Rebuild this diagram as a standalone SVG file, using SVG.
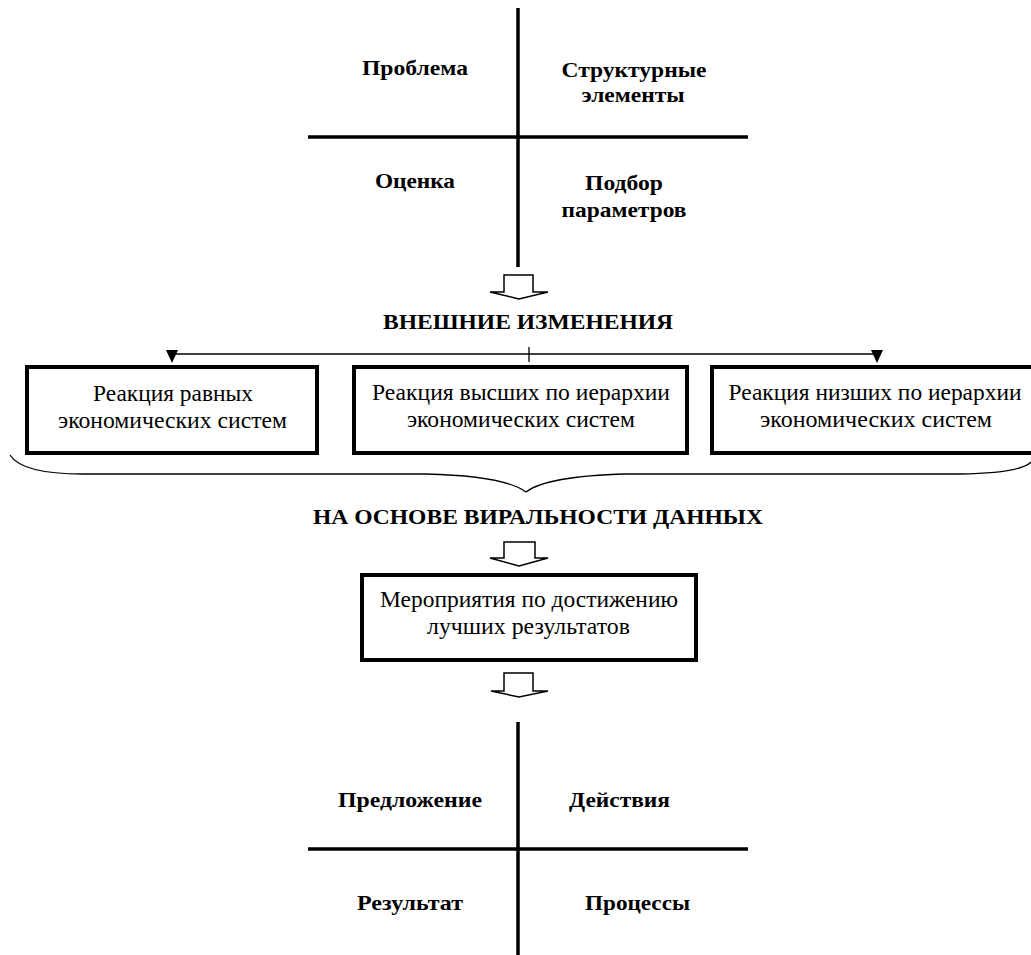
<svg xmlns="http://www.w3.org/2000/svg" width="1031" height="955" viewBox="0 0 1031 955">
<style>
.b{font-family:"Liberation Serif","Times New Roman",serif;font-weight:bold;font-size:21px;fill:#000;text-anchor:middle}
.r{font-family:"Liberation Serif","Times New Roman",serif;font-size:23px;fill:#000;text-anchor:middle}
.axis{stroke:#000;stroke-width:3.5;fill:none}
.box{fill:#fff;stroke:#000;stroke-width:4}
.barrow{fill:#fff;stroke:#000;stroke-width:1.5;stroke-linejoin:miter}
.thin{stroke:#000;stroke-width:1.3;fill:none}
</style>
<rect width="1031" height="955" fill="#fff"/>
<g id="top-cross">
<line class="axis" x1="518" y1="8" x2="518" y2="267"/>
<line class="axis" x1="308" y1="137" x2="748" y2="137"/>
<text class="b" x="415" y="75" textLength="106" lengthAdjust="spacingAndGlyphs">Проблема</text>
<text class="b" x="634" y="77" textLength="145" lengthAdjust="spacingAndGlyphs">Структурные</text>
<text class="b" x="633" y="102" textLength="103" lengthAdjust="spacingAndGlyphs">элементы</text>
<text class="b" x="415" y="188" textLength="80" lengthAdjust="spacingAndGlyphs">Оценка</text>
<text class="b" x="624" y="190" textLength="78" lengthAdjust="spacingAndGlyphs">Подбор</text>
<text class="b" x="624" y="217" textLength="125" lengthAdjust="spacingAndGlyphs">параметров</text>
</g>
<g id="connectors">
<path class="barrow" d="M504,275 H533 V292 H548 L519,299 L490,292 H504 Z"/>
<line class="thin" x1="172" y1="354" x2="877" y2="354"/>
<line class="thin" x1="529" y1="347" x2="529" y2="362"/>
<path d="M166,350 H178 L172,363 Z" fill="#000"/>
<path d="M871,350 H883 L877,363 Z" fill="#000"/>
<path class="thin" d="M10,455 Q22,474 83,474 L426,474 Q505,476 526,492 Q547,476 626,474 L960,474 Q1020,473 1031,462"/>
<path class="barrow" d="M504,542 H535 V558 H548 L519,566 L490,558 H504 Z"/>
<path class="barrow" d="M504,673 H533 V691 H548 L519,697 L491,691 H504 Z"/>
</g>
<g id="label-external">
<text class="b" x="528" y="329" textLength="290" lengthAdjust="spacingAndGlyphs">ВНЕШНИЕ ИЗМЕНЕНИЯ</text>
</g>
<g id="box-equal">
<rect class="box" x="27" y="367" width="290" height="86"/>
<text class="r" x="173" y="401" textLength="160" lengthAdjust="spacingAndGlyphs">Реакция равных</text>
<text class="r" x="172.5" y="428" textLength="229" lengthAdjust="spacingAndGlyphs">экономических систем</text>
</g>
<g id="box-higher">
<rect class="box" x="354" y="367" width="333" height="86"/>
<text class="r" x="521" y="400" textLength="298" lengthAdjust="spacingAndGlyphs">Реакция высших по иерархии</text>
<text class="r" x="521" y="427" textLength="228" lengthAdjust="spacingAndGlyphs">экономических систем</text>
</g>
<g id="box-lower">
<rect class="box" x="712" y="367" width="330" height="86"/>
<text class="r" x="875" y="400" textLength="293" lengthAdjust="spacingAndGlyphs">Реакция низших по иерархии</text>
<text class="r" x="876" y="427" textLength="232" lengthAdjust="spacingAndGlyphs">экономических систем</text>
</g>
<g id="label-virality">
<text class="b" x="538" y="524" textLength="450" lengthAdjust="spacingAndGlyphs">НА ОСНОВЕ ВИРАЛЬНОСТИ ДАННЫХ</text>
</g>
<g id="box-measures">
<rect class="box" x="362" y="575" width="334" height="85"/>
<text class="r" x="529" y="607" textLength="298" lengthAdjust="spacingAndGlyphs">Мероприятия по достижению</text>
<text class="r" x="528.5" y="634" textLength="203" lengthAdjust="spacingAndGlyphs">лучших результатов</text>
</g>
<g id="bottom-cross">
<line class="axis" x1="518" y1="722" x2="518" y2="955"/>
<line class="axis" x1="308" y1="849" x2="748" y2="849"/>
<text class="b" x="410" y="807" textLength="144" lengthAdjust="spacingAndGlyphs">Предложение</text>
<text class="b" x="619.5" y="807" textLength="101" lengthAdjust="spacingAndGlyphs">Действия</text>
<text class="b" x="410" y="910" textLength="106" lengthAdjust="spacingAndGlyphs">Результат</text>
<text class="b" x="637.5" y="910" textLength="105" lengthAdjust="spacingAndGlyphs">Процессы</text>
</g>
</svg>
